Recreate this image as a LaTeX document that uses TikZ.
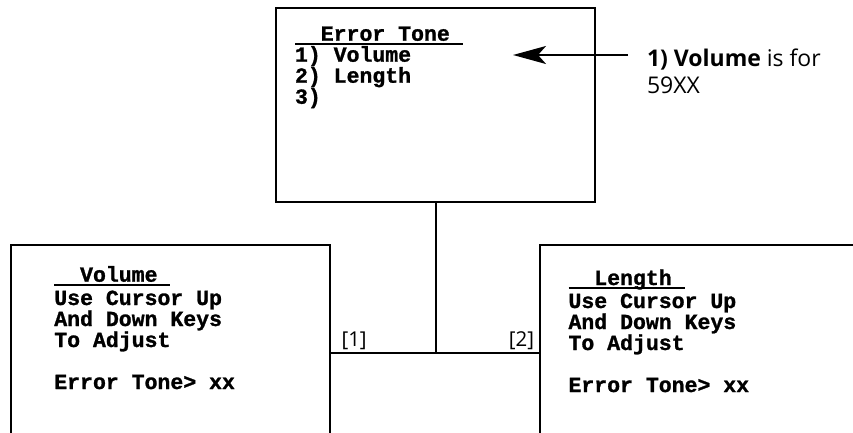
\documentclass[tikz,border=0pt]{standalone}
\usepackage{fontspec}
\usepackage{tikz}
\usetikzlibrary{positioning, arrows.meta, calc}
\newfontfamily\lcdfont{Liberation Mono}[BoldFeatures={FakeBold=1.2}]
\newfontfamily\notefont{Open Sans}
\newcommand{\lcd}{\lcdfont\bfseries\fontsize{21.5}{21}\selectfont}
\newcommand{\callout}{\notefont\fontsize{23}{27.5}\selectfont}
\newcommand{\tagfont}{\notefont\fontsize{20.5}{24}\selectfont}

\begin{document}
\begin{tikzpicture}[
  x=1pt, y=-1pt,
  every node/.style={inner sep=0pt, outer sep=0pt},
  frame/.style={draw, line width=2pt, anchor=north west},
  heading/.style={font=\lcd, anchor=base west},
  lcdtext/.style={font=\lcd, align=left, anchor=base west},
  ul/.style={line width=2pt},
  wire/.style={line width=2pt},
  tag/.style={font=\tagfont},
  arr/.style={-{Stealth[length=33pt, width=18pt, inset=8pt]}, line width=1.8pt}
]
  \clip (0,0) rectangle (853,433);

  % screens
  \node[frame, minimum width=319pt, minimum height=194pt] (menu) at (276,8) {};
  \node[frame, minimum width=318.5pt, minimum height=220pt] (volbox) at (11,245) {};
  \node[frame, minimum width=340pt, minimum height=220pt] (lenbox) at (540,245) {};

  % menu screen (body is placed by its last line)
  \node[heading] (menuhead) at (295,40.7) {\ \ Error Tone\ \ };
  \node[lcdtext] (menubody) at ($(menuhead.base west)+(0,63)$)
    {1) Volume\\2) Length\\3)};
  \draw[ul] ([yshift=-3pt]menuhead.base west) -- ([yshift=-3pt]menuhead.base east);

  % volume screen
  \node[heading] (volhead) at (54.3,281.7) {\ \ Volume\ \ };
  \node[lcdtext] (volbody) at ($(volhead.base west)+(0,107.3)$)
    {Use Cursor Up\\And Down Keys\\To Adjust\\[21pt]Error Tone> xx};
  \draw[ul] ([yshift=-3.5pt]volhead.base west) -- ([yshift=-3.5pt]volhead.base east);

  % length screen
  \node[heading] (lenhead) at (568.5,285) {\ \ Length\ \ };
  \node[lcdtext] (lenbody) at ($(lenhead.base west)+(0,107)$)
    {Use Cursor Up\\And Down Keys\\To Adjust\\[21pt]Error Tone> xx};
  \draw[ul] ([yshift=-3.3pt]lenhead.base west) -- ([yshift=-3.3pt]lenhead.base east);

  % connectors
  \coordinate (fork) at (menu.south |- 0,353.3);
  \draw[wire] (menu.south) -- (fork);
  \draw[wire] (volbox.east |- fork) -- (lenbox.west |- fork);
  \node[tag, anchor=base west] (key1) at ($(volbox.east |- fork)+(12,-6.6)$) {[1]};
  \node[tag, anchor=base east] (key2) at ($(lenbox.west |- fork)+(-6,-6.6)$) {[2]};

  % callout
  \node[font=\callout, align=left, anchor=base west] (note) at (647,94)
    {\textbf{1) Volume} is for\\59XX};
  \coordinate (voltip) at (513,55);
  \draw[arr] ($(note.west |- voltip)+(-19,0)$) -- (voltip);
\end{tikzpicture}
\end{document}
